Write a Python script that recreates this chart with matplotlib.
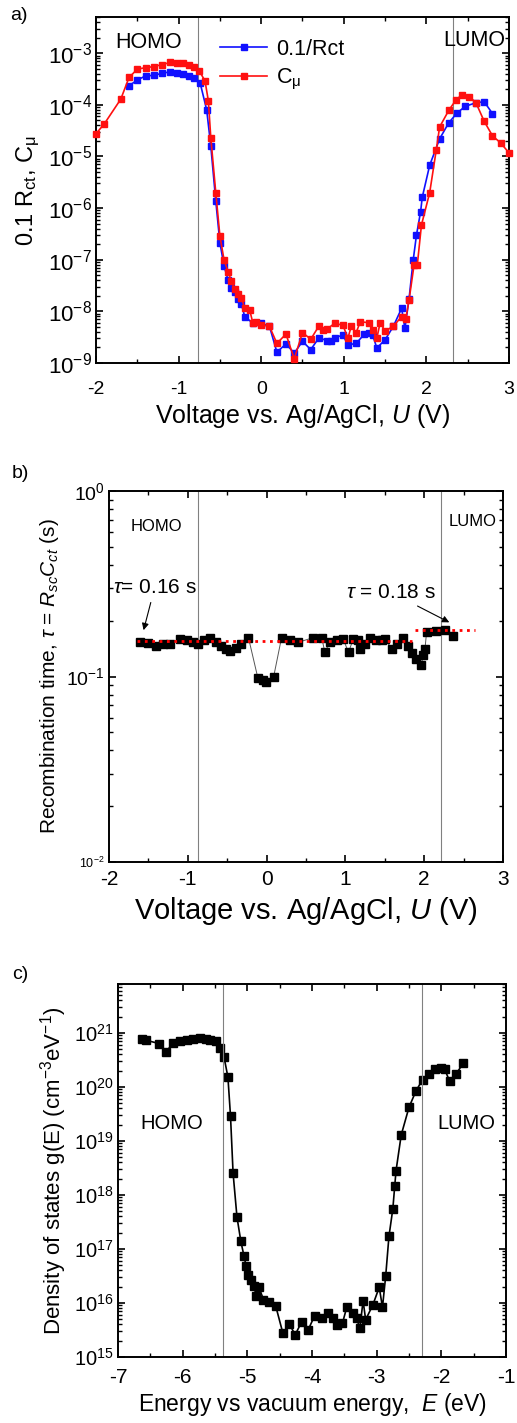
"""Three stacked panels: Rct/Cmu, recombination time and DOS vs potential."""

import numpy as np
import matplotlib.pyplot as plt
from matplotlib.ticker import LogLocator, MultipleLocator, NullFormatter

# ---- panel a: 0.1/Rct and C_mu (log10 values)
u_cmu = [-2.0, -1.9, -1.7, -1.6, -1.5, -1.4, -1.3, -1.2, -1.1, -1.02, -0.95, -0.87,
         -0.81, -0.75, -0.68, -0.64, -0.61, -0.55, -0.50, -0.45, -0.40, -0.36, -0.32,
         -0.28, -0.24, -0.20, -0.14, -0.10, -0.06, 0.0, 0.10, 0.19, 0.30, 0.40, 0.50,
         0.60, 0.70, 0.75, 0.80, 0.89, 0.99, 1.05, 1.09, 1.15, 1.20, 1.30, 1.35, 1.40,
         1.44, 1.50, 1.60, 1.70, 1.75, 1.79, 1.85, 1.89, 1.94, 2.04, 2.12, 2.16, 2.27,
         2.36, 2.43, 2.52, 2.60, 2.70, 2.80, 2.90, 3.00]
cmu_log = [-4.56, -4.37, -3.89, -3.47, -3.31, -3.28, -3.26, -3.22, -3.18, -3.19, -3.20,
           -3.23, -3.26, -3.34, -3.54, -3.92, -4.64, -5.70, -6.54, -7.00, -7.24, -7.42,
           -7.57, -7.66, -7.74, -7.93, -7.97, -8.23, -8.20, -8.26, -8.29, -8.62, -8.44,
           -8.92, -8.41, -8.54, -8.28, -8.36, -8.34, -8.23, -8.27, -8.52, -8.29, -8.41,
           -8.20, -8.22, -8.36, -8.52, -8.22, -8.38, -8.29, -8.10, -8.15, -7.78, -7.11,
           -7.10, -6.33, -5.70, -4.87, -4.43, -4.11, -3.90, -3.81, -3.84, -3.96, -4.32,
           -4.60, -4.74, -4.93]

u_rct = [-1.6, -1.5, -1.4, -1.3, -1.2, -1.1, -1.02, -0.95, -0.87, -0.81, -0.74, -0.66,
         -0.61, -0.55, -0.50, -0.45, -0.40, -0.36, -0.32, -0.28, -0.24, -0.20, -0.10,
         0.0, 0.10, 0.19, 0.30, 0.40, 0.50, 0.60, 0.70, 0.80, 0.85, 0.89, 0.99, 1.05,
         1.15, 1.25, 1.30, 1.35, 1.40, 1.50, 1.60, 1.70, 1.74, 1.79, 1.84, 1.88, 1.93,
         1.95, 2.04, 2.16, 2.27, 2.37, 2.47, 2.60, 2.70, 2.80]
rct_log = [-3.63, -3.52, -3.44, -3.43, -3.39, -3.36, -3.38, -3.40, -3.44, -3.49, -3.57,
           -4.10, -4.80, -5.86, -6.67, -7.12, -7.40, -7.54, -7.63, -7.76, -7.85, -8.10,
           -8.23, -8.23, -8.29, -8.79, -8.63, -8.81, -8.58, -8.74, -8.51, -8.57, -8.58,
           -8.51, -8.46, -8.65, -8.62, -8.44, -8.41, -8.46, -8.71, -8.55, -8.29, -7.94,
           -8.33, -7.76, -7.01, -6.52, -6.07, -5.79, -5.17, -4.66, -4.35, -4.16, -4.03,
           -3.96, -3.94, -4.17]

# ---- panel b: recombination time (s)
u_tau = [-1.61, -1.50, -1.40, -1.31, -1.22, -1.10, -1.01, -0.93, -0.87, -0.79, -0.72,
         -0.64, -0.58, -0.51, -0.46, -0.39, -0.32, -0.23, -0.11, -0.05, -0.01, 0.09,
         0.19, 0.30, 0.40, 0.59, 0.70, 0.74, 0.80, 0.89, 0.97, 1.04, 1.10, 1.16, 1.19,
         1.25, 1.31, 1.39, 1.46, 1.50, 1.59, 1.65, 1.73, 1.80, 1.85, 1.90, 1.96, 1.99,
         2.01, 2.03, 2.15, 2.26, 2.36]
tau = [0.153, 0.152, 0.147, 0.150, 0.150, 0.160, 0.157, 0.153, 0.150, 0.157, 0.162,
       0.153, 0.147, 0.141, 0.137, 0.143, 0.150, 0.162, 0.098, 0.096, 0.094, 0.100,
       0.162, 0.158, 0.153, 0.162, 0.162, 0.135, 0.153, 0.158, 0.160, 0.135, 0.160,
       0.157, 0.141, 0.150, 0.162, 0.157, 0.157, 0.160, 0.141, 0.150, 0.162, 0.146,
       0.134, 0.124, 0.115, 0.130, 0.141, 0.173, 0.176, 0.178, 0.166]
tau_fit_1 = 0.155
tau_fit_2 = 0.179

# ---- panel c: density of states (log10, cm^-3 eV^-1)
energy = [-6.63, -6.56, -6.36, -6.26, -6.15, -6.04, -5.94, -5.84, -5.73, -5.64, -5.57,
          -5.49, -5.42, -5.36, -5.30, -5.26, -5.22, -5.16, -5.10, -5.05, -5.02, -4.99,
          -4.95, -4.90, -4.86, -4.82, -4.75, -4.66, -4.56, -4.45, -4.35, -4.26, -4.16,
          -4.06, -3.96, -3.85, -3.75, -3.67, -3.61, -3.53, -3.46, -3.37, -3.31, -3.26,
          -3.21, -3.17, -3.06, -2.96, -2.91, -2.86, -2.81, -2.75, -2.72, -2.70, -2.62,
          -2.50, -2.39, -2.29, -2.19, -2.10, -2.01, -1.95, -1.87, -1.77, -1.66]
dos_log = [20.88, 20.86, 20.80, 20.64, 20.81, 20.84, 20.86, 20.88, 20.90, 20.89, 20.87,
           20.84, 20.72, 20.55, 20.18, 19.46, 18.40, 17.59, 17.14, 16.86, 16.69, 16.52,
           16.43, 16.31, 16.13, 16.29, 16.06, 16.01, 15.94, 15.44, 15.61, 15.41, 15.65,
           15.50, 15.76, 15.73, 15.81, 15.72, 15.59, 15.62, 15.93, 15.82, 15.72, 15.53,
           16.04, 15.69, 15.96, 16.29, 15.92, 16.50, 17.23, 17.74, 18.17, 18.45, 19.11,
           19.62, 19.93, 20.13, 20.24, 20.33, 20.35, 20.33, 20.10, 20.24, 20.44]

homo_a, lumo_a = -0.76, 2.32
homo_b, lumo_b = -0.87, 2.21
homo_c, lumo_c = -5.38, -2.30

plt.rcParams.update({
    'font.family': ['Liberation Sans', 'DejaVu Sans'],
    'mathtext.fontset': 'custom',
    'mathtext.rm': 'Liberation Sans',
    'mathtext.it': 'Liberation Sans:italic',
    'mathtext.bf': 'Liberation Sans:bold',
    'axes.unicode_minus': False,
    'xtick.direction': 'in', 'ytick.direction': 'in',
    'xtick.top': True, 'ytick.right': True,
    'axes.linewidth': 1.4,
    'xtick.major.width': 1.2, 'ytick.major.width': 1.2,
    'xtick.minor.width': 1.0, 'ytick.minor.width': 1.0,
    'xtick.major.size': 5, 'ytick.major.size': 5,
    'xtick.minor.size': 3, 'ytick.minor.size': 3,
})


def style_log_axis(ax, xlim, ylim, xfs, yfs, xpad=6):
    """Log y axis with ticks only inside the limits."""
    ax.set_yscale('log')
    ax.set_xlim(*xlim)
    ax.set_ylim(*ylim)
    lo, hi = np.ceil(np.log10(ylim[0])), np.floor(np.log10(ylim[1]))
    ax.set_yticks(10.0 ** np.arange(lo, hi + 1))
    ax.yaxis.set_minor_locator(LogLocator(base=10, subs=np.arange(2, 10), numticks=20))
    ax.yaxis.set_minor_formatter(NullFormatter())
    ax.set_xticks(np.arange(xlim[0], xlim[1] + 1))
    ax.xaxis.set_minor_locator(MultipleLocator(0.5))
    ax.set_xlim(*xlim)
    ax.set_ylim(*ylim)
    ax.tick_params(axis='x', labelsize=xfs, pad=xpad)
    ax.tick_params(axis='y', labelsize=yfs, pad=3)


fig = plt.figure(figsize=(5.17, 14.23), dpi=100)

# ---------------- panel a
ax = fig.add_axes([0.1857, 0.7449, 0.7988, 0.2431])
ax.plot(u_rct, 10.0 ** np.array(rct_log), '-s', color='#1010ff', ms=5, lw=1.2,
        label='0.1/Rct', clip_on=False, zorder=3)
ax.plot(u_cmu, 10.0 ** np.array(cmu_log), '-s', color='#ff1010', ms=5, lw=1.2,
        label=r'C$_\mathrm{\mu}$', clip_on=False, zorder=4)
ax.axvline(homo_a, color='gray', lw=0.8)
ax.axvline(lumo_a, color='gray', lw=0.8)
style_log_axis(ax, (-2, 3), (1e-9, 5e-3), 14, 16, xpad=13)
ax.set_xlabel(r'Voltage vs. Ag/AgCl, $U$ (V)', fontsize=18, labelpad=3)
ax.set_ylabel(r'0.1 R$_\mathrm{ct}$, C$_\mathrm{\mu}$', fontsize=17, labelpad=4)
ax.text(-1.36, 1.6e-3, 'HOMO', fontsize=15.5, ha='center', va='center')
ax.text(2.58, 1.78e-3, 'LUMO', fontsize=15.5, ha='center', va='center')
ax.legend(loc='upper left', bbox_to_anchor=(0.29, 0.95), frameon=False,
          fontsize=15.5, handlelength=2.2, handletextpad=0.4, labelspacing=0.35,
          borderpad=0.2, borderaxespad=0)
fig.text(0.019, 0.989, 'a)', fontsize=14, ha='left', va='center')

# ---------------- panel b
ax = fig.add_axes([0.2108, 0.3942, 0.7621, 0.2607])
ax.plot(u_tau, tau, '-s', color='#555555', mfc='black', mec='black', ms=6, lw=0.7,
        zorder=3)
ax.plot([-1.64, 1.85], [tau_fit_1, tau_fit_1], ':', color='red', lw=2, zorder=4)
ax.plot([1.88, 2.64], [tau_fit_2, tau_fit_2], ':', color='red', lw=2, zorder=4)
ax.axvline(homo_b, color='gray', lw=0.8)
ax.axvline(lumo_b, color='gray', lw=0.8)
style_log_axis(ax, (-2, 3), (1e-2, 1), 15, 14)
for lab in ax.get_yticklabels():
    if lab.get_position()[1] < 0.05:
        lab.set_fontsize(9)
ax.set_xlabel(r'Voltage vs. Ag/AgCl, $U$ (V)', fontsize=21)
ax.set_ylabel(r'Recombination time, $\tau$ = $R_{sc}C_{ct}$ (s)', fontsize=15)
ax.text(-1.40, 0.644, 'HOMO', fontsize=12, ha='center', va='center')
ax.text(2.62, 0.685, 'LUMO', fontsize=12, ha='center', va='center')
arrow = dict(arrowstyle='-|>', color='black', lw=0.8, mutation_scale=10)
ax.annotate(r'$\tau$= 0.16 s', xy=(-1.57, 0.172), xytext=(-1.42, 0.302),
            fontsize=15, ha='center', va='center', arrowprops=arrow)
ax.annotate(r'$\tau$ = 0.18 s', xy=(2.35, 0.193), xytext=(1.58, 0.284),
            fontsize=15, ha='center', va='center', arrowprops=arrow)
fig.text(0.023, 0.667, 'b)', fontsize=14, ha='left', va='center')

# ---------------- panel c
ax = fig.add_axes([0.2282, 0.0464, 0.7505, 0.2621])
ax.plot(energy, 10.0 ** np.array(dos_log), '-s', color='black', ms=5.5, lw=1.2)
ax.axvline(homo_c, color='gray', lw=0.8)
ax.axvline(lumo_c, color='gray', lw=0.8)
style_log_axis(ax, (-7, -1), (1e15, 8e21), 15, 14.5, xpad=8)
ax.set_xlabel(r'Energy vs vacuum energy,  $E$ (eV)', fontsize=16.5, labelpad=3)
ax.set_ylabel(r'Density of states g(E) (cm$^{-3}$eV$^{-1}$)', fontsize=16)
ax.text(-6.17, 2.1e19, 'HOMO', fontsize=14.5, ha='center', va='center')
ax.text(-1.62, 2.1e19, 'LUMO', fontsize=14.5, ha='center', va='center')
fig.text(0.023, 0.315, 'c)', fontsize=14, ha='left', va='center')

fig.savefig('out.png', dpi=100)
